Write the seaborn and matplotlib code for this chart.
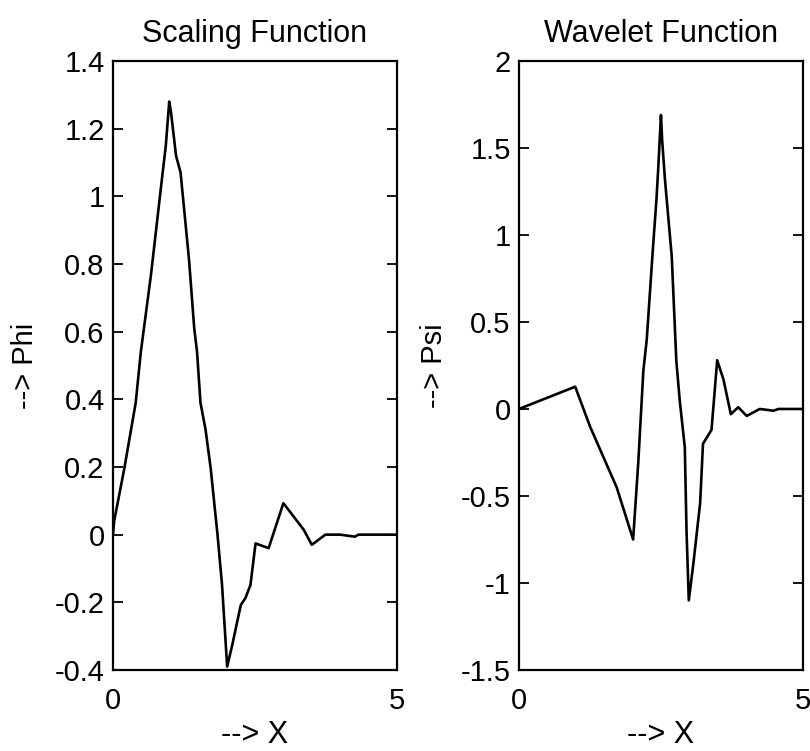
import matplotlib
matplotlib.use("Agg")
import matplotlib.pyplot as plt
import seaborn as sns
import pandas as pd

# Sampled scaling function phi(x)
phi_x = [0.0, 0.02, 0.20, 0.40, 0.49, 0.67, 0.84, 0.93, 0.99, 1.00, 1.02, 1.11,
         1.19, 1.34, 1.43, 1.48, 1.54, 1.63, 1.72, 1.78, 1.84, 1.92, 2.01, 2.10,
         2.25, 2.33, 2.42, 2.51, 2.74, 3.00, 3.36, 3.50, 3.74, 4.00, 4.26, 4.32, 5.00]
phi_y = [0.0, 0.04, 0.196, 0.39, 0.54, 0.77, 1.02, 1.15, 1.28, 1.27, 1.25, 1.12,
         1.07, 0.81, 0.61, 0.54, 0.39, 0.31, 0.196, 0.098, 0.0, -0.149, -0.39, -0.326,
         -0.208, -0.188, -0.149, -0.026, -0.04, 0.093, 0.014, -0.03, 0.0, 0.0, -0.006, 0.0, 0.0]

# Sampled wavelet function psi(x)
psi_x = [0.0, 0.99, 1.25, 1.72, 2.01, 2.10, 2.19, 2.25, 2.36, 2.42, 2.45, 2.50,
         2.52, 2.57, 2.69, 2.77, 2.83, 2.92, 2.95, 2.99, 3.07, 3.19, 3.24, 3.39,
         3.49, 3.60, 3.73, 3.86, 4.01, 4.24, 4.48, 4.57, 5.00]
psi_y = [0.0, 0.128, -0.10, -0.45, -0.75, -0.31, 0.22, 0.40, 0.93, 1.20, 1.37, 1.69,
         1.55, 1.32, 0.875, 0.28, 0.05, -0.22, -0.70, -1.10, -0.89, -0.54, -0.20, -0.12,
         0.28, 0.17, -0.03, 0.01, -0.04, 0.0, -0.01, 0.0, 0.0]

phi_ticks = [-0.4, -0.2, 0.0, 0.2, 0.4, 0.6, 0.8, 1.0, 1.2, 1.4]
phi_labels = ["-0.4", "-0.2", "0", "0.2", "0.4", "0.6", "0.8", "1", "1.2", "1.4"]
psi_ticks = [-1.5, -1.0, -0.5, 0.0, 0.5, 1.0, 1.5, 2.0]
psi_labels = ["-1.5", "-1", "-0.5", "0", "0.5", "1", "1.5", "2"]
x_ticks = [0, 5]
x_labels = ["0", "5"]

sns.set_style("ticks")
plt.rcParams["font.family"] = ["Liberation Sans", "DejaVu Sans"]
plt.rcParams["text.color"] = "black"
plt.rcParams["axes.labelcolor"] = "black"
plt.rcParams["xtick.color"] = "black"
plt.rcParams["ytick.color"] = "black"

fig = plt.figure(figsize=(8.1, 7.51), dpi=100)
ax1 = fig.add_axes([0.1395, 0.1079, 0.3506, 0.8109])
ax2 = fig.add_axes([0.6407, 0.1079, 0.3506, 0.8109])

panels = [
    (ax1, phi_x, phi_y, phi_ticks, phi_labels, (-0.4, 1.4), "Scaling Function", "--> Phi", 11),
    (ax2, psi_x, psi_y, psi_ticks, psi_labels, (-1.5, 2.0), "Wavelet Function", "--> Psi", 9),
]

for ax, xs, ys, yt, yl, ylim, title, ylab, ypad in panels:
    df = pd.DataFrame({"x": xs, "y": ys})
    sns.lineplot(data=df, x="x", y="y", ax=ax, sort=False, color="black",
                 linewidth=1.9, estimator=None)
    ax.set_xlim(0, 5)
    ax.set_ylim(*ylim)
    ax.set_xticks(x_ticks)
    ax.set_xticklabels(x_labels)
    ax.set_yticks(yt)
    ax.set_yticklabels(yl)
    ax.tick_params(axis="both", direction="in", length=7, width=1.3,
                   labelsize=21, right=True, top=False, color="black",
                   labelcolor="black")
    ax.tick_params(axis="x", length=0, pad=12)
    ax.tick_params(axis="y", pad=6)
    for s in ax.spines.values():
        s.set_visible(True)
        s.set_color("black")
        s.set_linewidth(1.6)
    ax.set_title(title, fontsize=22, pad=14, color="black")
    ax.set_xlabel("--> X", fontsize=22, labelpad=4, color="black")
    ax.set_ylabel(ylab, fontsize=21, labelpad=ypad, color="black")

fig.savefig("out.png", dpi=100, facecolor="white")
